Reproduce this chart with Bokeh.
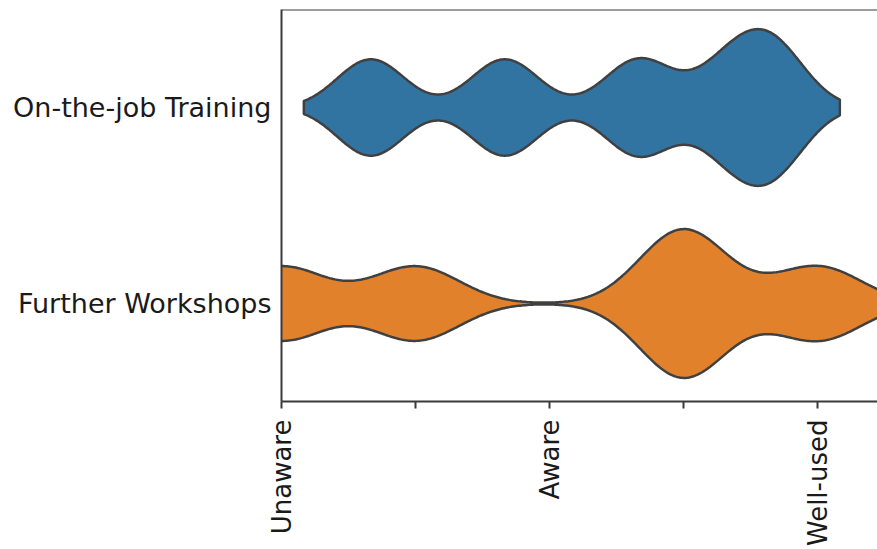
import math
import numpy as np
from bokeh.plotting import figure
from bokeh.models import Range1d, FixedTicker, Span
from bokeh.embed import file_html
from bokeh.resources import INLINE

# Categories (top to bottom) and their response distributions
categories = ["On-the-job Training", "Further Workshops"]

training_scores = [2 / 3, 5 / 3, 8 / 3, 10 / 3, 11 / 3]
training_counts = [5, 5, 5, 4, 6]

workshop_scores = [0, 1, 2, 3, 4]
workshop_counts = [2, 2, 0, 4, 2]

# Kernel bandwidths of the density estimates
bandwidths = [0.25, 0.325]

# x-axis ticks and their labels
tick_values = [0, 1, 2, 3, 4]
tick_labels = ["Unaware", "", "Aware", "", "Well-used"]

colors = ["#3274a1", "#e1812c"]
FONT = "DejaVu Sans"


def kde(scores, counts, bw, n=400, cut=2.0):
    s = np.asarray(scores, float)
    w = np.asarray(counts, float)
    grid = np.linspace(s.min() - cut * bw, s.max() + cut * bw, n)
    z = (grid[:, None] - s[None, :]) / bw
    dens = (np.exp(-0.5 * z ** 2) * w[None, :]).sum(axis=1)
    dens /= w.sum() * bw * math.sqrt(2 * math.pi)
    return grid, dens


series = [
    kde(training_scores, training_counts, bandwidths[0]),
    kde(workshop_scores, workshop_counts, bandwidths[1]),
]
# equal-area scaling: the widest violin spans 0.8 of a category slot
scale = 0.4 / max(d.max() for _, d in series)

p = figure(
    width=877,
    height=549,
    x_range=Range1d(0, (877 - 281) / 134),
    y_range=Range1d(1.5, -0.5),
    output_backend="svg",
    toolbar_location=None,
    min_border_left=281,
    min_border_right=0,
    min_border_top=9,
    min_border_bottom=146,
)
p.outline_line_color = None
p.xgrid.visible = False
p.ygrid.visible = False
p.background_fill_color = "white"
p.border_fill_color = "white"

for i, ((grid, dens), color) in enumerate(zip(series, colors)):
    half = dens * scale
    xs = np.concatenate([grid, grid[::-1]])
    ys = np.concatenate([i - half, (i + half)[::-1]])
    p.patch(xs, ys, fill_color=color, line_color="#404040", line_width=2.5)

spine = "#3a3a3a"
text_color = "#1a1a1a"

# top spine
p.add_layout(Span(location=-0.5, dimension="width", line_color=spine, line_width=2))

xa = p.xaxis[0]
xa.ticker = FixedTicker(ticks=tick_values)
xa.major_label_overrides = {v: l for v, l in zip(tick_values, tick_labels)}
xa.major_label_orientation = math.pi / 2
xa.major_label_text_font = FONT
xa.major_label_text_font_size = "26px"
xa.major_label_text_color = text_color
xa.major_label_standoff = 11
xa.major_tick_out = 7
xa.major_tick_in = 0
xa.minor_tick_line_color = None
xa.axis_line_color = spine
xa.axis_line_width = 2
xa.major_tick_line_color = spine
xa.major_tick_line_width = 2

ya = p.yaxis[0]
ya.ticker = FixedTicker(ticks=[0, 1])
ya.major_label_overrides = {i: c for i, c in enumerate(categories)}
ya.major_label_text_font = FONT
ya.major_label_text_font_size = "27px"
ya.major_label_text_color = text_color
ya.major_tick_line_color = None
ya.major_tick_out = 0
ya.major_tick_in = 0
ya.minor_tick_line_color = None
ya.major_label_standoff = 10
ya.axis_line_color = spine
ya.axis_line_width = 2

open("out.html", "w").write(file_html(p, INLINE))
